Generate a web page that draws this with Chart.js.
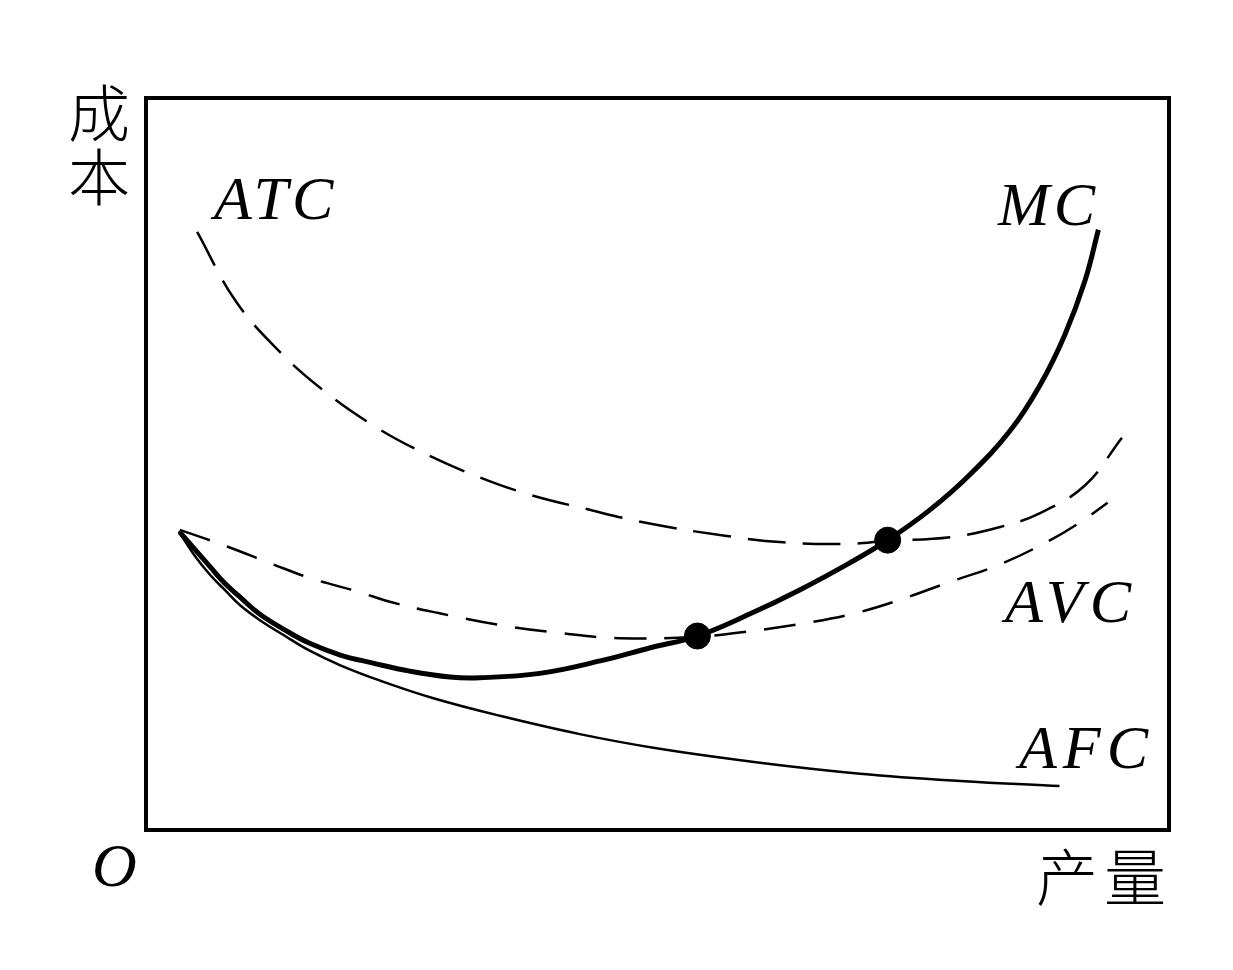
<!DOCTYPE html>
<html>
<head>
<meta charset="utf-8">
<title>成本曲线</title>
<script src="https://cdn.jsdelivr.net/npm/chart.js@4/dist/chart.umd.min.js"></script>
<style>
    html, body { margin: 0; padding: 0; background: #fff; }
    #wrap { width: 1233px; height: 970px; }
</style>
</head>
<body>
<div id="wrap"><canvas id="costChart" width="1233" height="970"></canvas></div>
<script>
// ============================================
// DATA (产量 on x, 成本 on y, both 0..100)
// ============================================

const mcX  = [3.3, 4.8, 6.3, 7.7, 9.2, 11.1, 13.6, 16.0, 19.0, 22.2, 25.8, 29.7, 32.6, 38.5, 44.4, 49.3, 53.9, 59.0, 63.9, 68.8, 72.5, 76.6, 80.5, 84.5, 87.4, 89.8, 91.8, 93.1];
const mcY  = [40.7, 38.3, 35.9, 33.7, 31.8, 29.5, 27.3, 25.5, 23.9, 22.8, 21.7, 20.9, 20.8, 21.4, 23.1, 24.9, 26.5, 29.5, 32.8, 36.5, 39.6, 43.7, 48.5, 54.6, 60.8, 67.6, 75.1, 82.0];

const atcX = [5.0, 8.7, 12.6, 17.3, 22.4, 27.0, 32.2, 37.3, 42.9, 49.1, 56.6, 62.3, 68.6, 72.5, 78.6, 83.5, 87.4, 91.8, 95.4];
const atcY = [81.7, 72.4, 66.0, 60.1, 55.1, 51.6, 48.4, 45.9, 43.9, 41.9, 40.2, 39.3, 39.1, 39.5, 40.0, 41.4, 43.3, 47.1, 53.6];

const avcX = [3.3, 8.0, 12.4, 16.3, 20.4, 24.3, 28.7, 34.6, 40.5, 46.3, 53.9, 59.3, 65.1, 69.3, 73.4, 78.6, 83.5, 88.4, 91.6, 94.0];
const avcY = [41.0, 38.7, 36.3, 34.3, 32.7, 31.0, 29.6, 28.0, 26.9, 26.2, 26.4, 27.2, 28.4, 29.6, 31.3, 33.9, 36.3, 39.6, 42.3, 44.7];

const afcX = [3.2, 4.8, 6.3, 7.7, 9.2, 11.1, 13.6, 16.0, 19.0, 22.9, 28.1, 34.6, 42.4, 50.2, 60.0, 69.8, 79.6, 89.3];
const afcY = [40.8, 37.4, 34.8, 32.8, 30.7, 28.7, 26.5, 24.5, 22.5, 20.4, 18.0, 15.6, 13.1, 11.1, 9.2, 7.7, 6.7, 6.0];

// MC crosses AVC and ATC at their minima
const dotX = [53.9, 72.5];
const dotY = [26.5, 39.6];

function toPoints(xs, ys) {
    return xs.map((x, i) => ({ x: x, y: ys[i] }));
}

// ============================================
// FRAME + TEXT PLUGIN
// ============================================

const framePlugin = {
    id: 'frame',
    afterDraw(chart) {
        const { ctx, chartArea: a } = chart;
        ctx.save();
        ctx.strokeStyle = '#000';
        ctx.lineWidth = 4;
        ctx.strokeRect(a.left, a.top, a.right - a.left, a.bottom - a.top);

        ctx.fillStyle = '#000';
        ctx.textAlign = 'left';
        ctx.textBaseline = 'alphabetic';
        ctx.font = 'italic 62px "Liberation Serif", "DejaVu Serif", serif';
        ctx.letterSpacing = '4px';
        ctx.fillText('ATC', 214, 219);
        ctx.fillText('MC', 998, 225);
        ctx.letterSpacing = '6px';
        ctx.fillText('AVC', 1005, 622);
        ctx.fillText('AFC', 1019, 768);
        ctx.letterSpacing = '0px';
        ctx.fillText('O', 92, 886);

        ctx.textAlign = 'center';
        ctx.textBaseline = 'middle';
        ctx.font = '300 62px "Noto Sans CJK SC", sans-serif';
        ctx.fillText('成', 99, 113);
        ctx.fillText('本', 99, 177);
        ctx.letterSpacing = '6px';
        ctx.fillText('产量', 1104, 877);
        ctx.restore();
    }
};

// ============================================
// CHART
// ============================================

function lineSet(label, xs, ys, width, dash) {
    return {
        label: label,
        data: toPoints(xs, ys),
        showLine: true,
        borderColor: '#000',
        borderWidth: width,
        borderDash: dash,
        pointRadius: 0,
        fill: false,
        tension: 0.4
    };
}

new Chart(document.getElementById('costChart').getContext('2d'), {
    type: 'scatter',
    data: {
        datasets: [
            lineSet('ATC', atcX, atcY, 2.5, [38, 17]),
            lineSet('AVC', avcX, avcY, 2.5, [32, 18]),
            lineSet('AFC', afcX, afcY, 2.5, []),
            lineSet('MC', mcX, mcY, 5, []),
            {
                label: 'min',
                data: toPoints(dotX, dotY),
                showLine: false,
                pointRadius: 13,
                pointBackgroundColor: '#000',
                pointBorderColor: '#000'
            }
        ]
    },
    options: {
        responsive: false,
        animation: false,
        layout: { padding: { left: 146, top: 98, right: 64, bottom: 140 } },
        scales: {
            x: { type: 'linear', min: 0, max: 100, display: false },
            y: { type: 'linear', min: 0, max: 100, display: false }
        },
        plugins: {
            legend: { display: false },
            tooltip: { enabled: false }
        }
    },
    plugins: [framePlugin]
});
</script>
</body>
</html>
